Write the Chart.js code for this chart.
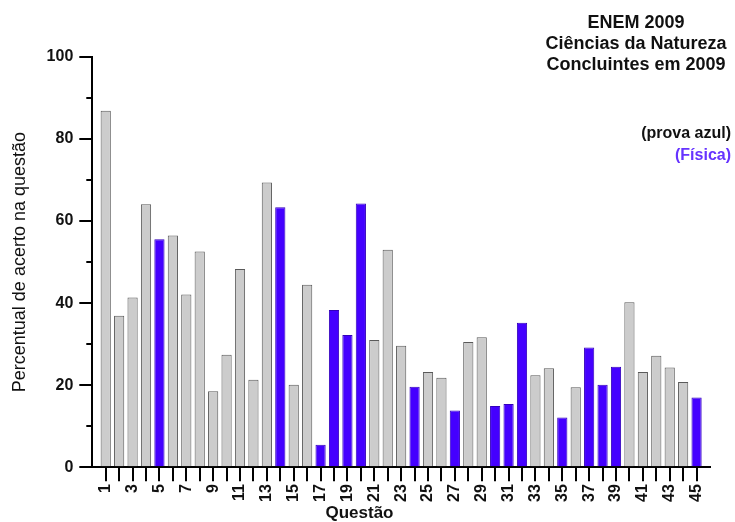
<!DOCTYPE html>
<html>
<head>
<meta charset="utf-8">
<script src="https://cdn.jsdelivr.net/npm/chart.js@4.4.0/dist/chart.umd.min.js"></script>
<style>
  html, body { margin: 0; padding: 0; background: #fff; }
  #wrap { width: 735px; height: 522px; }
</style>
</head>
<body>
<div id="wrap"><canvas id="chart" width="735" height="522"></canvas></div>
<script>
// questões 1..45, percentual de acerto (prova azul)
const questoes = [];
for (let q = 1; q <= 45; q++) questoes.push(q);

const acerto = [
  86.9, 36.9, 41.4, 64.1, 55.6, 56.5, 42.1, 52.6, 18.5, 27.4,
  48.3, 21.3, 69.4, 63.4, 20.1, 44.5, 5.5, 38.3, 32.2, 64.3,
  31.0, 53.0, 29.6, 19.6, 23.2, 21.8, 13.8, 30.5, 31.7, 14.9,
  15.4, 35.2, 22.4, 24.1, 12.1, 19.5, 29.2, 20.1, 24.5, 40.2,
  23.2, 27.2, 24.3, 20.8, 17.0
];

// questões de Física
const fisica = [5, 14, 17, 18, 19, 20, 24, 27, 30, 31, 32, 35, 37, 38, 39, 45];

const tituloLinhas = ['ENEM 2009', 'Ciências da Natureza', 'Concluintes em 2009'];
const ticksMenores = [10, 30, 50, 70, 90];

const corCinza = '#cccccc';
const corAzul = '#4400ff';
const FONT = 'Liberation Sans, Arial, sans-serif';

const pontos = questoes.map((q, i) => ({ x: q, y: acerto[i] }));
const fundo = questoes.map(q => fisica.includes(q) ? corAzul : corCinza);
const borda = questoes.map(q => fisica.includes(q) ? '#3300bb' : '#5a5a5a');

// textos do canto superior direito + ticks menores do eixo y
const textosPlugin = {
  id: 'textos',
  afterDraw(chart) {
    const ctx = chart.ctx;
    const y = chart.scales.y;
    ctx.save();
    ctx.strokeStyle = '#000';
    ctx.lineWidth = 2;
    ticksMenores.forEach(v => {
      const py = Math.round(y.getPixelForValue(v));
      ctx.beginPath();
      ctx.moveTo(chart.chartArea.left - 6, py);
      ctx.lineTo(chart.chartArea.left, py);
      ctx.stroke();
    });

    ctx.font = 'bold 18px ' + FONT;
    ctx.fillStyle = '#111';
    ctx.textAlign = 'center';
    ctx.textBaseline = 'middle';
    tituloLinhas.forEach((t, i) => ctx.fillText(t, 636, 23 + i * 21));
    ctx.textAlign = 'right';
    ctx.font = 'bold 16px ' + FONT;
    ctx.fillText('(prova azul)', 731, 134);
    ctx.fillStyle = '#6633ff';
    ctx.fillText('(Física)', 731, 156);
    ctx.restore();
  }
};

new Chart(document.getElementById('chart'), {
  type: 'bar',
  data: {
    datasets: [{
      data: pontos,
      backgroundColor: fundo,
      borderColor: borda,
      borderWidth: 1,
      categoryPercentage: 1,
      barPercentage: 0.76
    }]
  },
  plugins: [textosPlugin],
  options: {
    responsive: false,
    animation: false,
    layout: { padding: { top: 57, right: 25, left: 9, bottom: 0 } },
    plugins: {
      legend: { display: false },
      tooltip: { enabled: false },
      title: {
        display: true,
        text: 'Questão',
        position: 'bottom',
        color: '#111',
        font: { family: FONT, size: 17, weight: 'bold', lineHeight: 1 },
        padding: { top: 0, bottom: 0 }
      }
    },
    scales: {
      x: {
        type: 'linear',
        offset: false,
        min: 0,
        max: 46,
        afterBuildTicks: axis => {
          axis.ticks = questoes.map(q => ({ value: q }));
        },
        ticks: {
          autoSkip: false,
          minRotation: 90,
          maxRotation: 90,
          color: '#111',
          padding: 3,
          font: { family: FONT, size: 16, weight: 'bold' },
          callback: v => (v % 2 === 1 ? String(v) : '')
        },
        grid: {
          display: true,
          offset: false,
          drawOnChartArea: false,
          drawTicks: true,
          tickLength: 14,
          color: '#000',
          lineWidth: 2
        },
        border: { display: true, color: '#000', width: 2 }
      },
      y: {
        min: 0,
        max: 100,
        ticks: {
          stepSize: 20,
          color: '#111',
          padding: 6,
          font: { family: FONT, size: 16, weight: 'bold' }
        },
        grid: {
          display: true,
          drawOnChartArea: false,
          drawTicks: true,
          tickLength: 13,
          color: '#000',
          lineWidth: 2
        },
        border: { display: true, color: '#000', width: 2 },
        title: {
          display: true,
          text: 'Percentual de acerto na questão',
          color: '#111',
          font: { family: FONT, size: 18, weight: 'normal' },
          padding: { top: 0, bottom: 10 }
        }
      }
    }
  }
});
</script>
</body>
</html>
